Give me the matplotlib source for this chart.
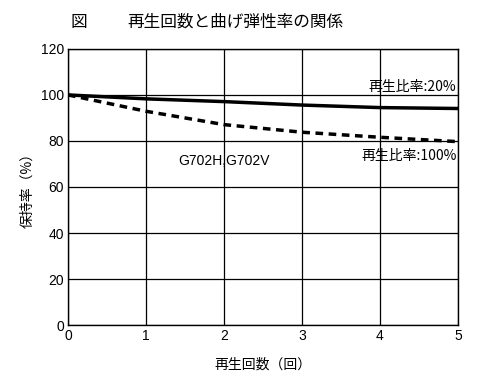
import matplotlib
matplotlib.use("Agg")
import matplotlib.pyplot as plt

plt.rcParams['font.family'] = ['Noto Sans CJK JP', 'DejaVu Sans']

cycles = [0, 1, 2, 3, 4, 5]
ratio_20 = [100, 98.3, 97.1, 95.6, 94.5, 94.1]
ratio_100 = [100, 92.9, 87.1, 83.8, 81.6, 79.7]
xticks = [0, 1, 2, 3, 4, 5]
yticks = [0, 20, 40, 60, 80, 100, 120]

fig = plt.figure(figsize=(5.0, 3.82), dpi=100)
ax = fig.add_axes([0.136, 0.149, 0.78, 0.723])

ax.plot(cycles, ratio_20, color='black', linewidth=2.5, solid_capstyle='butt')
ax.plot(cycles, ratio_100, color='black', linewidth=2.5, linestyle=(0, (2.2, 1.6)))

ax.set_xlim(0, 5)
ax.set_ylim(0, 120)
ax.set_xticks(xticks)
ax.set_yticks(yticks)
ax.grid(True, color='black', linewidth=0.9)
ax.tick_params(length=0, labelsize=10, pad=3)
for lbl in ax.get_xticklabels() + ax.get_yticklabels():
    lbl.set_family(['Liberation Sans', 'DejaVu Sans'])
for s in ax.spines.values():
    s.set_linewidth(1.0)

ax.text(4.98, 100.3, '再生比率:20%', ha='right', va='bottom', fontsize=10)
ax.text(4.98, 76.5, '再生比率:100%', ha='right', va='top', fontsize=10)
ax.text(2.0, 71.5, 'G702H,G702V', ha='center', va='center', fontsize=10,
        family=['Liberation Sans', 'DejaVu Sans'])

ax.set_xlabel('再生回数（回）', fontsize=10, labelpad=10)
ax.set_ylabel('保持率（%）', fontsize=10)
ax.yaxis.set_label_coords(-0.085, 0.5)

fig.text(0.14, 0.942, '図', fontsize=12, ha='left', va='center')
fig.text(0.255, 0.942, '再生回数と曲げ弾性率の関係', fontsize=12, ha='left', va='center')

fig.savefig('out.png', dpi=100)
